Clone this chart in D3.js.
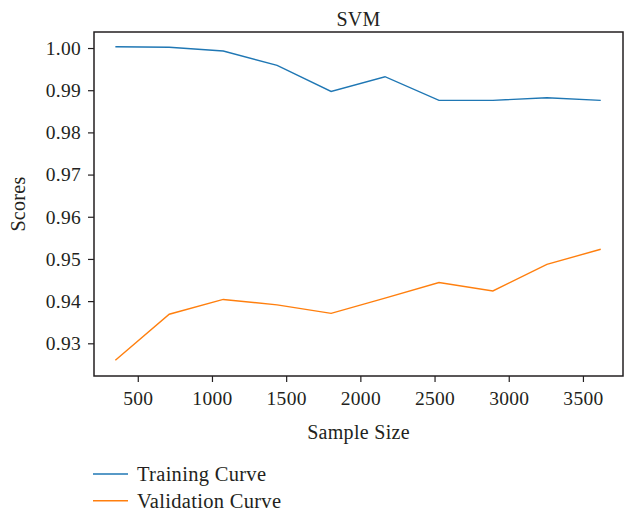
<!DOCTYPE html>
<html>
<head>
<meta charset="utf-8">
<script src="https://cdn.jsdelivr.net/npm/d3@7"></script>
<style>
  body { margin: 0; background: #fff; }
  text { font-family: "Liberation Serif", "DejaVu Serif", serif; fill: #231f20; letter-spacing: 0.3px; }
</style>
</head>
<body>
<div id="chart"></div>
<script>
const sampleSizes = [349, 712, 1076, 1439, 1803, 2166, 2530, 2893, 3257, 3620];
const trainingScores = [1.0003, 1.0002, 0.9993, 0.9959, 0.9897, 0.9932, 0.9876, 0.9876, 0.9882, 0.9876];
const validationScores = [0.9260, 0.9369, 0.9404, 0.9391, 0.9371, 0.9407, 0.9444, 0.9424, 0.9487, 0.9523];
const xTicks = [500, 1000, 1500, 2000, 2500, 3000, 3500];
const yTicks = [0.93, 0.94, 0.95, 0.96, 0.97, 0.98, 0.99, 1.0];
const seriesNames = ["Training Curve", "Validation Curve"];
const seriesColors = ["#1f77b4", "#ff7f0e"];

const width = 625;
const height = 517;
const margin = { top: 32, right: 2, bottom: 141, left: 94 };
const plotW = width - margin.left - margin.right;
const plotH = height - margin.top - margin.bottom;

const svg = d3
  .select("#chart")
  .append("svg")
  .attr("width", width)
  .attr("height", height);

const x = d3.scaleLinear().domain([205, 3770]).range([0, plotW]);
const y = d3.scaleLinear().domain([0.92225, 1.0038]).range([plotH, 0]);

const g = svg
  .append("g")
  .attr("transform", "translate(" + margin.left + "," + margin.top + ")");

// axes
const xAxis = g
  .append("g")
  .attr("transform", "translate(0," + plotH + ")")
  .call(d3.axisBottom(x).tickValues(xTicks).tickSize(6).tickPadding(9).tickFormat(d3.format("d")));
const yAxis = g
  .append("g")
  .call(d3.axisLeft(y).tickValues(yTicks).tickSize(6).tickPadding(7).tickFormat(d3.format(".2f")));

[xAxis, yAxis].forEach((a) => {
  a.select(".domain").remove();
  a.selectAll("line").attr("stroke", "#231f20").attr("stroke-width", 1.2);
  a.selectAll("text").style("font-size", "19.5px").attr("fill", "#231f20");
});

// frame
g.append("rect")
  .attr("width", plotW)
  .attr("height", plotH)
  .attr("fill", "none")
  .attr("stroke", "#231f20")
  .attr("stroke-width", 1.5);

const line = d3
  .line()
  .x((d, i) => x(sampleSizes[i]))
  .y((d) => y(d));

[trainingScores, validationScores].forEach((s, i) => {
  g.append("path")
    .datum(s)
    .attr("d", line)
    .attr("fill", "none")
    .attr("stroke", seriesColors[i])
    .attr("stroke-width", 1.4);
});

// title and labels
svg.append("text")
  .attr("x", margin.left + plotW / 2)
  .attr("y", 26)
  .attr("text-anchor", "middle")
  .style("font-size", "20px")
  .text("SVM");

svg.append("text")
  .attr("x", margin.left + plotW / 2)
  .attr("y", 439)
  .attr("text-anchor", "middle")
  .style("font-size", "20px")
  .text("Sample Size");

svg.append("text")
  .attr("transform", "translate(25," + (margin.top + plotH / 2) + ") rotate(-90)")
  .attr("text-anchor", "middle")
  .style("font-size", "20px")
  .text("Scores");

// legend
const legend = svg.append("g").attr("transform", "translate(93,474)");
seriesNames.forEach((name, i) => {
  const row = legend.append("g").attr("transform", "translate(0," + i * 26.7 + ")");
  row.append("line")
    .attr("x1", 0)
    .attr("x2", 35)
    .attr("stroke", seriesColors[i])
    .attr("stroke-width", 1.4);
  row.append("text")
    .attr("x", 44)
    .attr("y", 7)
    .style("font-size", "20.5px")
    .text(name);
});
</script>
</body>
</html>
